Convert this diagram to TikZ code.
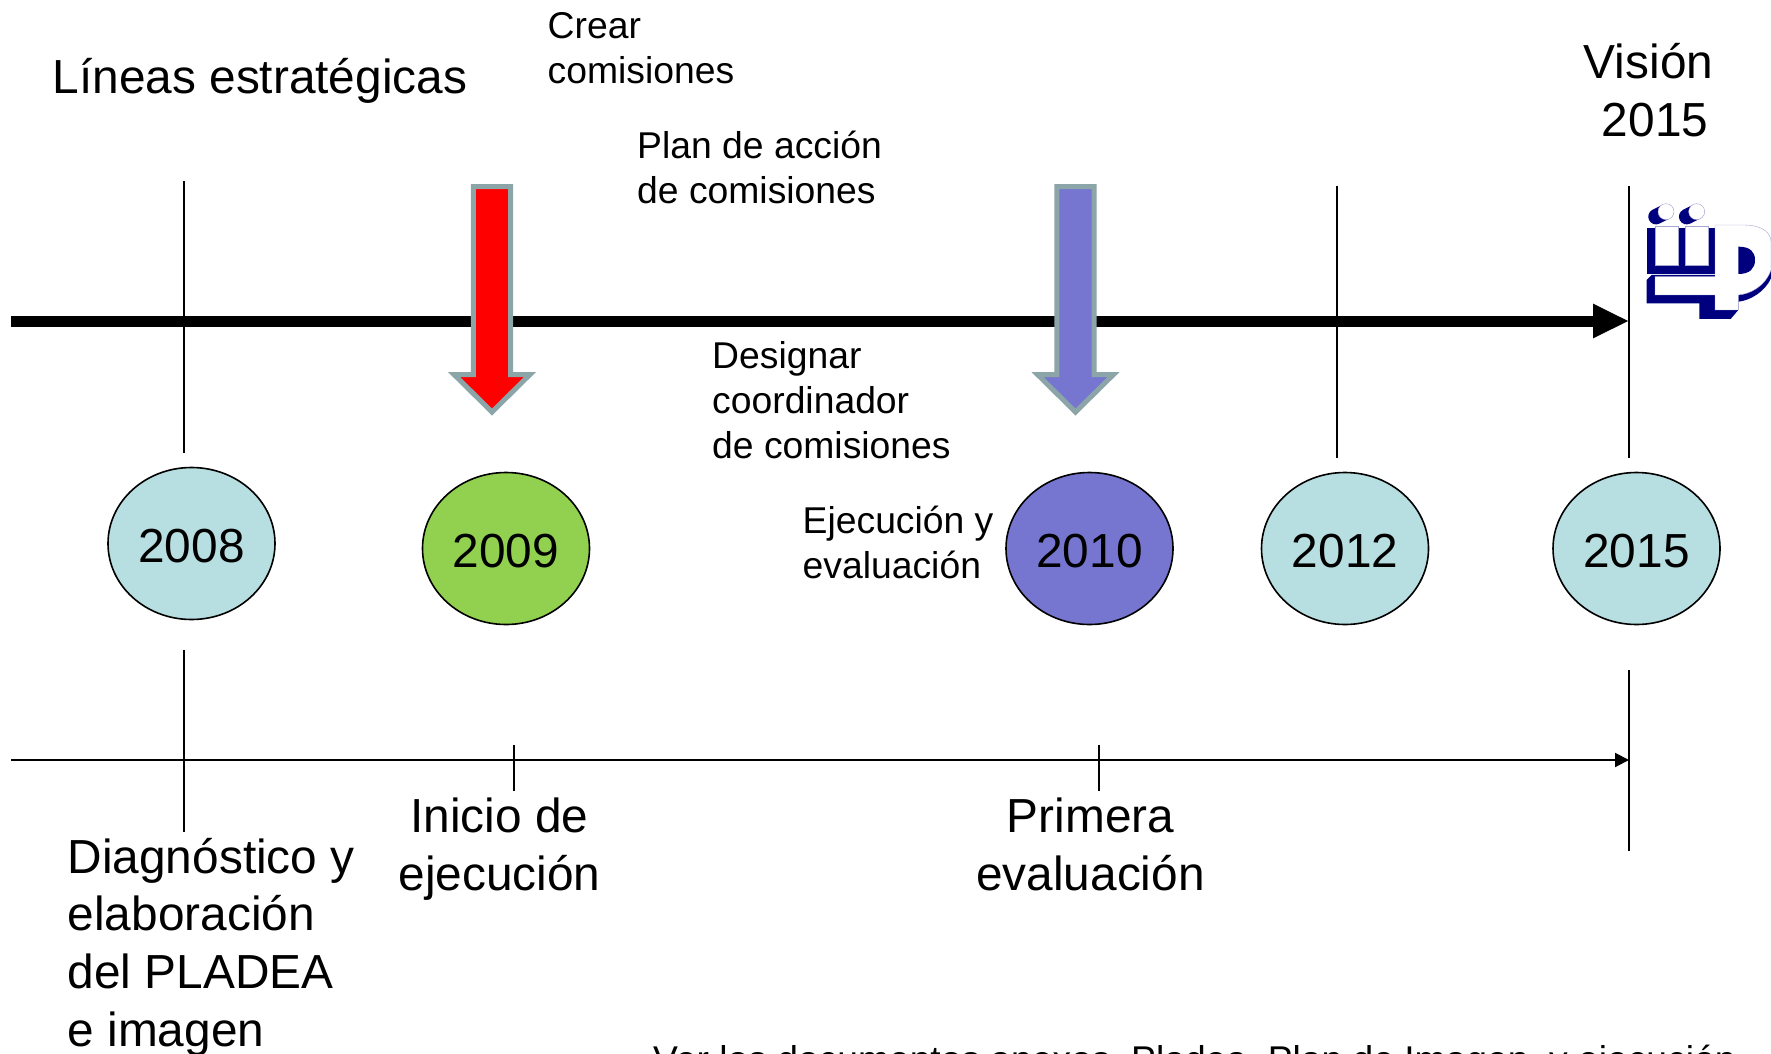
\documentclass[tikz,border=0pt]{standalone}
\usepackage{fontspec}
\setmainfont{Liberation Sans}
\usetikzlibrary{arrows.meta,shapes.geometric}
\definecolor{yearblue}{HTML}{B7DEE1}
\definecolor{yeargreen}{HTML}{92D050}
\definecolor{yearpurple}{HTML}{7676D0}
\definecolor{arrowedge}{HTML}{8CA5A8}
\definecolor{logonavy}{HTML}{00007F}
\tikzset{
  x=1pt,y=-1pt,
  year/.style={draw=black,line width=1.6pt,ellipse,minimum width=167pt,minimum height=152pt,inner sep=0pt,text height=38pt,text depth=0pt,font=\fontsize{47.8pt}{57.6pt}\selectfont,text=black},
  big/.style={inner sep=0pt,font=\fontsize{47.8pt}{57.6pt}\selectfont},
  small/.style={inner sep=0pt,font=\fontsize{37.3pt}{45pt}\selectfont},
  rule/.style={draw=black,line width=2pt},
  bigarrow/.style={line width=5pt,draw=arrowedge,miter limit=10},
  logowhite/.style={fill=white,draw=logonavy!35,line width=0.4pt},
}
\begin{document}
\begin{tikzpicture}
\useasboundingbox (0,0) rectangle (1771,1054);
% named coordinates
\coordinate (thickL) at (11,321);
\coordinate (thickR) at (1629,321);
\coordinate (thinL) at (11,760);
\coordinate (thinR) at (1629,760);
\coordinate (a1) at (184,181); \coordinate (a2) at (184,453);
\coordinate (a3) at (184,650); \coordinate (a4) at (184,832);
\coordinate (b1) at (1337,186); \coordinate (b2) at (1337,458);
\coordinate (c1) at (1629,186); \coordinate (c2) at (1629,458);
\coordinate (c3) at (1629,670); \coordinate (c4) at (1629,851);
\coordinate (t1) at (514,745); \coordinate (t2) at (514,791);
\coordinate (t3) at (1099,745); \coordinate (t4) at (1099,791);
% rules
\draw[rule] (a1) -- (a2);
\draw[rule] (a3) -- (a4);
\draw[rule] (b1) -- (b2);
\draw[rule] (c1) -- (c2);
\draw[rule] (c3) -- (c4);
\draw[rule] (t1) -- (t2);
\draw[rule] (t3) -- (t4);
\draw[line width=11pt,-{Triangle[length=36pt,width=32pt]}] (thickL) -- (thickR);
\draw[line width=2pt,-{Triangle[length=14pt,width=14pt]}] (thinL) -- (thinR);
% block arrows
\draw[bigarrow,fill=red] (473.4,186.5) -- (510.6,186.5) -- (510.6,374.5) -- (530,374.5) -- (492,412) -- (454,374.5) -- (473.4,374.5) -- cycle;
\draw[bigarrow,fill=yearpurple] (1056.9,186.5) -- (1094.1,186.5) -- (1094.1,374.5) -- (1113.5,374.5) -- (1075.5,412) -- (1037.5,374.5) -- (1056.9,374.5) -- cycle;
% years
\node[year,fill=yearblue] (y2008) at (191.5,543.5) {2008};
\node[year,fill=yeargreen] (y2009) at (506,548.5) {2009};
\node[year,fill=yearpurple] (y2010) at (1089.5,548.5) {2010};
\node[year,fill=yearblue] (y2012) at (1345,548.5) {2012};
\node[year,fill=yearblue] (y2015) at (1636.5,548.5) {2015};
% texts
\node[big,anchor=base west] (lineas) at (52.5,94) {Líneas estratégicas};
\node[small,anchor=base west,align=left] (crear) at (547.5,84) {Crear\\comisiones};
\node[small,anchor=base west,align=left] (plan) at (637,203) {Plan de acción\\de comisiones};
\node[small,anchor=base west,align=left] (desig) at (712,458) {Designar\\coordinador\\de comisiones};
\node[small,anchor=base west,align=left] (ejec) at (802.5,578) {Ejecución y\\evaluación};
\node[big,anchor=base,align=center] (vision) at (1655,136) {Visión\hspace*{13pt}\\2015};
\node[big,anchor=base,align=center] (inicio) at (499.5,890) {Inicio de\\ejecución};
\node[big,anchor=base,align=center] (primera) at (1090.5,890) {Primera\\evaluación};
\node[big,anchor=base west,align=left] (diag) at (67.5,1046) {Diagnóstico y\\elaboración\\del PLADEA\\e imagen};
\node[small,anchor=base west,font=\fontsize{37.23pt}{45pt}\selectfont] (ver) at (653,1072.5) {Ver los documentos anexos, Pladea, Plan de Imagen, y ejecución};
% logo (coordinates from a 3x view)
\begin{scope}[shift={(1600,170)},x=0.3333pt,y=-0.3333pt]
\fill[logonavy] (140,175) -- (345,175) -- (345,312) -- (140,312) -- cycle;
\fill[logonavy] (140,330) -- (155,315) -- (345,315) -- (345,375) -- (513,290) -- (513,325) .. controls (495,365) and (450,392) .. (415,395) -- (415,420) -- (392,447) -- (298,447) -- (298,400) -- (140,400) -- cycle;
\path[logowhite] (165,168) -- (235,168) -- (235,285) -- (165,285) -- cycle;
\path[logowhite] (255,168) -- (325,168) -- (325,285) -- (255,285) -- cycle;
\path[logowhite] (165,320) -- (345,320) -- (345,165) -- (430,165) .. controls (490,165) and (513,190) .. (513,215) -- (513,300) .. controls (495,350) and (450,372) .. (415,375) -- (415,420) -- (345,420) -- (345,375) -- (165,375) -- cycle;
\fill[logonavy] (415,230) .. controls (450,230) and (465,245) .. (465,270) .. controls (465,295) and (450,312) .. (415,312) -- cycle;
\draw[logonavy,line width=15.5pt,line cap=round] (168,140) -- (198,125);
\draw[logonavy,line width=15.5pt,line cap=round] (260,140) -- (290,125);
\path[logowhite] (198,125) circle[radius=24];
\path[logowhite] (290,125) circle[radius=24];
\end{scope}
\end{tikzpicture}
\end{document}
